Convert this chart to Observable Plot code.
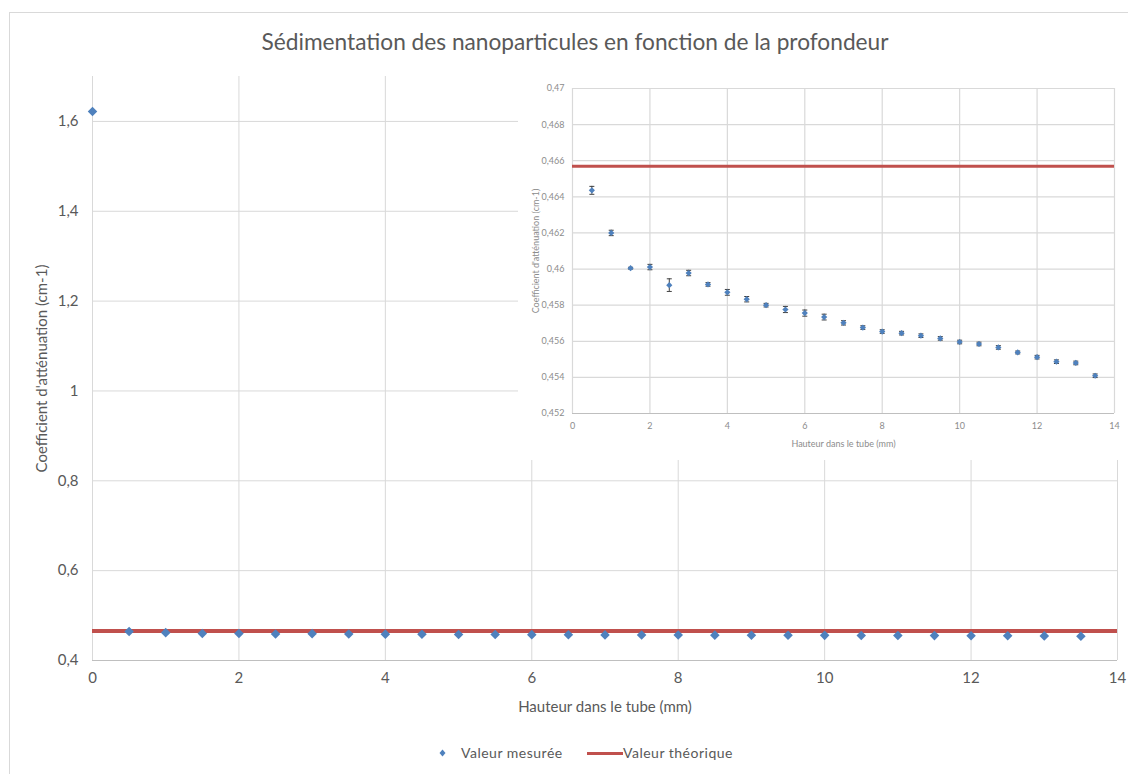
<!DOCTYPE html>
<html><head><meta charset="utf-8">
<script src="https://cdn.jsdelivr.net/npm/d3@7"></script>
<script src="https://cdn.jsdelivr.net/npm/@observablehq/plot@0.6"></script>
<style>
body{margin:0;background:#fff;font-family:Lato,"Open Sans",sans-serif;}
#wrap{position:relative;width:1128px;height:774px;overflow:hidden;background:#fff}
#frame{position:absolute;left:9px;top:12px;width:1140px;height:800px;border:1px solid #d9d9d9;box-sizing:border-box}
#title{position:absolute;left:0;top:28px;width:1150px;text-align:center;font-size:22.7px;color:#595959;white-space:nowrap}
#main{position:absolute;left:0;top:60px}
#inset{position:absolute;left:518px;top:75px;background:#fff}
.lg{position:absolute;font-size:14px;letter-spacing:0.5px;color:#595959;line-height:16px;white-space:nowrap}
</style></head>
<body><div id="wrap">
<div id="frame"></div>
<div id="title">Sédimentation des nanoparticules en fonction de la profondeur</div>
<div id="main"></div>
<div id="inset"></div>
<div id="legend"></div>
</div>
<script>
// ---- data ----
const heights = [0, 0.5, 1, 1.5, 2, 2.5, 3, 3.5, 4, 4.5, 5, 5.5, 6, 6.5, 7, 7.5, 8, 8.5, 9, 9.5, 10, 10.5, 11, 11.5, 12, 12.5, 13, 13.5];
const measured = [1.622, 0.46436, 0.4620, 0.46005, 0.46011, 0.45911, 0.45978, 0.45915, 0.45871, 0.45833, 0.45800, 0.45776, 0.45756, 0.45734, 0.45702, 0.45676, 0.45654, 0.45645, 0.45631, 0.45616, 0.45596, 0.45585, 0.45566, 0.45538, 0.45512, 0.45487, 0.45480, 0.45409];
const errors = [0, 0.00022, 0.00015, 0.00005, 0.00015, 0.00035, 0.00015, 0.0001, 0.00016, 0.00015, 0.0001, 0.00017, 0.00017, 0.00016, 0.00012, 0.0001, 0.0001, 0.0001, 0.0001, 0.0001, 0.0001, 0.0001, 0.0001, 0.00008, 0.0001, 0.0001, 0.0001, 0.0001];
const theoretical = 0.4657;
const xTicks = [0, 2, 4, 6, 8, 10, 12, 14];
const mainYTicks = [0.4, 0.6, 0.8, 1, 1.2, 1.4, 1.6];
const insetYTicks = [0.452, 0.454, 0.456, 0.458, 0.46, 0.462, 0.464, 0.466, 0.468, 0.47];
const xLabel = "Hauteur dans le tube (mm)";
const yLabel = "Coefficient d'atténuation (cm-1)";
const legendLabels = ["Valeur mesurée", "Valeur théorique"];

const rows = heights.map((h, i) => ({x: h, y: measured[i], e: errors[i]}));
const insetRows = rows.filter(d => d.x > 0);
const comma = v => String(+(+v).toFixed(3)).replace(".", ",");
const blue = "#4F81BD", red = "#C0504D";

// ---- main chart ----
const main = Plot.plot({
  width: 1128, height: 672,
  marginLeft: 92, marginRight: 11, marginTop: 16, marginBottom: 72,
  style: {fontFamily: "Lato, 'Open Sans', sans-serif", fontSize: "15px", color: "#595959", background: "transparent"},
  x: {domain: [0, 14]},
  y: {domain: [0.4, 1.7]},
  marks: [
    Plot.gridX(xTicks, {stroke: "#d9d9d9", strokeOpacity: 1}),
    Plot.gridY(mainYTicks.filter(v => v > 0.4), {stroke: "#d9d9d9", strokeOpacity: 1}),
    Plot.ruleY([0.4], {stroke: "#bfbfbf"}),
    Plot.axisX(xTicks, {tickSize: 0, tickPadding: 12, tickFormat: d => String(d), label: xLabel, labelAnchor: "center", labelArrow: "none", labelOffset: 51}),
    Plot.axisY(mainYTicks, {tickSize: 0, tickPadding: 14, tickFormat: comma, label: yLabel, labelAnchor: "center", labelArrow: "none", labelOffset: 56}),
    Plot.ruleY([theoretical], {stroke: red, strokeWidth: 4}),
    Plot.dot(rows, {x: "x", y: "y", symbol: "diamond2", r: 4.3, fill: blue})
  ]
});
document.getElementById("main").append(main);

// ---- inset chart ----
const cap = {draw(ctx) { ctx.moveTo(-2.5, 0); ctx.lineTo(2.5, 0); }};
const inset = Plot.plot({
  width: 602, height: 385,
  marginLeft: 54, marginRight: 6, marginTop: 13, marginBottom: 47,
  style: {fontFamily: "Lato, 'Open Sans', sans-serif", fontSize: "8.5px", color: "#8c8c8c", background: "#fff"},
  x: {domain: [0, 14]},
  y: {domain: [0.452, 0.47]},
  marks: [
    Plot.gridX(xTicks, {stroke: "#d9d9d9", strokeOpacity: 1, strokeWidth: 1.2}),
    Plot.gridY(insetYTicks.filter(v => v > 0.452), {stroke: "#d9d9d9", strokeOpacity: 1, strokeWidth: 1.2}),
    Plot.ruleY([0.452], {stroke: "#bfbfbf", strokeWidth: 1.2}),
    Plot.axisX(xTicks, {tickSize: 0, tickPadding: 9, tickFormat: d => String(d), label: xLabel, labelAnchor: "center", labelArrow: "none", labelOffset: 33, fontSize: 9}),
    Plot.axisY(insetYTicks, {tickSize: 0, tickPadding: 8, tickFormat: comma, label: yLabel, labelAnchor: "center", labelArrow: "none", labelOffset: 40, fontSize: 9}),
    Plot.ruleY([theoretical], {stroke: red, strokeWidth: 3}),
    Plot.ruleX(insetRows, {x: "x", y1: d => d.y - d.e, y2: d => d.y + d.e, stroke: "#404040", strokeWidth: 1}),
    Plot.dot(insetRows, {x: "x", y: d => d.y - d.e, symbol: cap, r: 2.5, stroke: "#404040", fill: "none", strokeWidth: 1}),
    Plot.dot(insetRows, {x: "x", y: d => d.y + d.e, symbol: cap, r: 2.5, stroke: "#404040", fill: "none", strokeWidth: 1}),
    Plot.dot(insetRows, {x: "x", y: "y", symbol: "diamond2", r: 2.8, fill: blue})
  ]
});
document.getElementById("inset").append(inset);

// ---- legend ----
const lg = document.getElementById("legend");
lg.innerHTML =
  `<svg class="lg" style="left:439px;top:749px" width="7" height="8"><path d="M3.5,0.5L6.5,4L3.5,7.5L0.5,4Z" fill="${blue}"/></svg>` +
  `<div class="lg" style="left:461px;top:745px">${legendLabels[0]}</div>` +
  `<svg class="lg" style="left:587px;top:752px" width="36" height="3"><rect width="36" height="3" fill="${red}"/></svg>` +
  `<div class="lg" style="left:623px;top:745px">${legendLabels[1]}</div>`;
</script>
</body></html>
